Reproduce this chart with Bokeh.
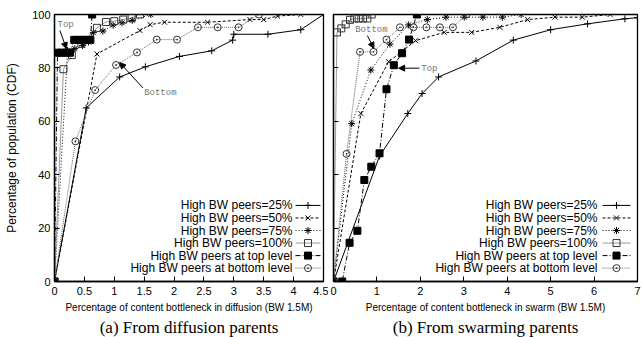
from bokeh.plotting import figure
from bokeh.layouts import row
from bokeh.models import Range1d, FixedTicker, Title, Label, Arrow, NormalHead
from bokeh.embed import file_html
from bokeh.resources import INLINE

# ---------------- data ----------------
SERIES_NAMES = ["High BW peers=25%", "High BW peers=50%", "High BW peers=75%",
                "High BW peers=100%", "High BW peers at top level",
                "High BW peers at bottom level"]

# (a) From diffusion parents
A25_X = [0, 0.53, 1.09, 1.52, 2.09, 2.63, 2.98, 3.0, 3.57, 4.12, 4.5]
A25_Y = [0, 65, 76.6, 80.4, 84.3, 86.4, 90.4, 92.6, 92.6, 94.3, 100]
A50_X = [0, 0.71, 1.43, 1.6, 1.84, 2.56, 3.27, 3.5, 3.73, 4.12]
A50_Y = [0, 85.2, 94, 96.2, 97.1, 97.1, 98.1, 98.1, 99.4, 100]
A75_X = [0, 0.22, 0.34, 0.47, 0.57, 0.65, 0.81, 0.98, 1.13, 1.3, 1.61]
A75_Y = [0, 86.5, 87.2, 88.4, 89.7, 93.2, 93.8, 96, 96.9, 97.8, 100]
A100_X = [0, 0.15, 0.29, 0.45, 0.71, 0.86, 1.0, 1.15, 1.29, 1.43]
A100_Y = [0, 79.5, 84.8, 89, 95, 97.2, 97.5, 98.1, 98.7, 100]
ATOP_X = [0, 0.05, 0.12, 0.19, 0.26, 0.33, 0.4, 0.47, 0.54, 0.6, 0.63]
ATOP_Y = [0, 85.7, 85.7, 85.7, 85.7, 90.5, 90.5, 90.5, 90.5, 90.5, 100]
ABOT_X = [0, 0.35, 0.68, 1.03, 1.38, 1.71, 2.05, 2.4, 2.73, 3.08, 3.42]
ABOT_Y = [0, 52.5, 71.7, 81.1, 85.8, 90.6, 90.6, 95.2, 95.2, 95.2, 100]

# (b) From swarming parents
B25_X = [0, 1.06, 1.71, 2.04, 2.42, 3.28, 4.14, 5.0, 5.85, 6.71, 7.0]
B25_Y = [0, 47, 62.9, 70.4, 76.6, 82.6, 90.4, 94.3, 96.5, 98.4, 98.8]
B50_X = [0, 0.63, 1.27, 1.89, 2.55, 3.18, 3.83, 4.47, 5.1, 5.73, 6.37]
B50_Y = [0, 62.9, 82.3, 90.2, 93.3, 93.3, 95.2, 98.1, 99, 99, 100]
B75_X = [0, 0.42, 0.86, 1.3, 1.73, 2.16, 2.59, 3.01, 3.44, 3.89, 4.32]
B75_Y = [0, 59.1, 79.2, 88.9, 96.1, 98.1, 99, 99, 99, 99, 100]
B100_X = [0, 0.08, 0.18, 0.28, 0.38, 0.48, 0.58, 0.68, 0.78, 0.88]
B100_Y = [0, 93.3, 94.8, 96.3, 98, 98.5, 98.5, 98.5, 98.5, 100]
BTOP_X = [0, 0.2, 0.37, 0.55, 0.71, 0.87, 1.06, 1.22, 1.39, 1.58, 1.74, 1.92]
BTOP_Y = [0, 0, 14.5, 19, 38, 43, 48, 72, 81, 85.5, 90.6, 100]
BBOT_X = [0, 0.3, 0.61, 0.92, 1.22, 1.53, 1.84, 2.14, 2.45, 2.75, 3.06]
BBOT_Y = [0, 47.8, 86, 86, 90.6, 95.2, 95.2, 95.2, 95.2, 95.2, 100]

Y_TICKS = [0, 20, 40, 60, 80, 100]
Y_TICK_LABELS = ["0", "20", "40", "60", "80", "100"]
XA_TICKS = [0, 0.5, 1, 1.5, 2, 2.5, 3, 3.5, 4, 4.5]
XA_TICK_LABELS = ["0", "0.5", "1", "1.5", "2", "2.5", "3", "3.5", "4", "4.5"]
XB_TICKS = [0, 1, 2, 3, 4, 5, 6, 7]
XB_TICK_LABELS = ["0", "1", "2", "3", "4", "5", "6", "7"]

Y_TITLE = "Percentage of population (CDF)"
XA_TITLE = "Percentage of content bottleneck in diffusion (BW 1.5M)"
XB_TITLE = "Percentage of content bottleneck in swarm (BW 1.5M)"
SUB_A = "(a) From diffusion parents"
SUB_B = "(b) From swarming parents"

# ---------------- styles ----------------
STYLES = [
    dict(color="black", dash="solid", marker="cross", fill=None, mcolor="black"),
    dict(color="black", dash="3 2", marker="x", fill=None, mcolor="black"),
    dict(color="black", dash="1 2", marker="asterisk", fill=None, mcolor="black"),
    dict(color="#9a9a9a", dash="solid", marker="square", fill=None, mcolor="#333333"),
    dict(color="black", dash="5 2 1 2", marker="square", fill="black", mcolor="black"),
    dict(color="#666666", dash="1 1", marker="circle_dot", fill=None, mcolor="#333333"),
]

SANS = "Liberation Sans"
HEIGHT = 337


def make_panel(width, mb_left, mb_right, xmax, xticks, xlabels, xtitle, subtitle,
               sub_offset, series, show_y):
    p = figure(width=width, height=HEIGHT, x_range=Range1d(0, xmax),
               y_range=Range1d(0, 100), output_backend="svg",
               toolbar_location=None, min_border_left=mb_left,
               min_border_right=mb_right, min_border_top=14, min_border_bottom=56)
    p.grid.visible = False
    p.outline_line_color = "black"
    p.outline_line_width = 1.3
    p.outline_line_alpha = 1.0
    p.background_fill_color = "white"
    p.border_fill_color = "white"

    for ax in (p.xaxis[0], p.yaxis[0]):
        ax.major_tick_in = 5
        ax.major_tick_out = 0
        ax.minor_tick_line_color = None
        ax.axis_line_width = 1.3
        ax.major_tick_line_width = 1
        ax.major_label_text_font = SANS
        ax.major_label_text_font_size = "11px"
        ax.major_label_text_color = "black"
        ax.axis_label_text_font = SANS
        ax.axis_label_text_font_style = "normal"
        ax.axis_label_text_color = "black"

    p.xaxis.ticker = FixedTicker(ticks=xticks)
    p.xaxis.major_label_overrides = dict(zip(xticks, xlabels))
    p.xaxis.major_label_standoff = 5
    p.xaxis.axis_label = xtitle
    p.xaxis.axis_label_text_font_size = "10px"
    p.xaxis.axis_label_standoff = 4

    p.yaxis.ticker = FixedTicker(ticks=Y_TICKS)
    if show_y:
        p.yaxis.major_label_overrides = dict(zip(Y_TICKS, Y_TICK_LABELS))
        p.yaxis.axis_label = Y_TITLE
        p.yaxis.axis_label_text_font_size = "12px"
        p.yaxis.axis_label_standoff = 10
        p.yaxis.major_label_standoff = 4
    else:
        p.yaxis.major_label_overrides = {t: "" for t in Y_TICKS}
        p.yaxis.major_label_standoff = 0

    for (xs, ys), st in zip(series, STYLES):
        p.line(xs, ys, line_color=st["color"], line_width=1, line_dash=st["dash"])
    for (xs, ys), st in zip(series, STYLES):
        p.scatter(xs, ys, marker=st["marker"], size=7, line_color=st["mcolor"],
                  fill_color=st["fill"], line_width=1)

    p.add_layout(Title(text=subtitle, align="center", text_font="Liberation Serif",
                       text_font_size="17px", text_font_style="normal",
                       text_color="black", standoff=0, offset=sub_offset), "below")
    return p


# frame geometry (px)
LEFT_W, LEFT_ML, LEFT_MR = 328, 54, 5
RIGHT_W, RIGHT_ML, RIGHT_MR = 314, 5, 5

pa = make_panel(LEFT_W, LEFT_ML, LEFT_MR, 4.5, XA_TICKS, XA_TICK_LABELS, XA_TITLE,
                SUB_A, -13, [(A25_X, A25_Y), (A50_X, A50_Y), (A75_X, A75_Y),
                             (A100_X, A100_Y), (ATOP_X, ATOP_Y), (ABOT_X, ABOT_Y)], True)
pb = make_panel(RIGHT_W, RIGHT_ML, RIGHT_MR, 7, XB_TICKS, XB_TICK_LABELS, XB_TITLE,
                SUB_B, 25, [(B25_X, B25_Y), (B50_X, B50_Y), (B75_X, B75_Y),
                            (B100_X, B100_Y), (BTOP_X, BTOP_Y), (BBOT_X, BBOT_Y)], False)


def add_legend(p, xmax, frame_px, text_gap, s_start, s_end, y_first, dy):
    ppu = frame_px / xmax  # pixels per x unit
    tx = xmax - text_gap / ppu
    s0 = xmax - s_start / ppu
    s1 = xmax - s_end / ppu
    sm = (s0 + s1) / 2
    for i, (name, st) in enumerate(zip(SERIES_NAMES, STYLES)):
        yy = y_first - i * dy
        p.add_layout(Label(x=tx, y=yy, text=name, text_align="right",
                           text_baseline="middle", text_font=SANS,
                           text_font_size="12px", text_color="black"))
        p.line([s0, s1], [yy, yy], line_color=st["color"], line_width=1,
               line_dash=st["dash"])
        p.scatter([sm], [yy], marker=st["marker"], size=7, line_color=st["mcolor"],
                  fill_color=st["fill"], line_width=1)


add_legend(pa, 4.5, LEFT_W - LEFT_ML - LEFT_MR, 31, 28, 3, 28.5, 4.7)
add_legend(pb, 7, RIGHT_W - RIGHT_ML - RIGHT_MR, 40, 35, 7, 28.5, 4.7)

ANN = dict(text_font="Liberation Mono", text_font_size="9px", text_color="#777777",
           text_baseline="middle")


def arrow(p, x0, y0, x1, y1):
    p.add_layout(Arrow(end=NormalHead(size=6, fill_color="black", line_color="black"),
                       x_start=x0, y_start=y0, x_end=x1, y_end=y1,
                       line_color="black", line_width=1))


pa.add_layout(Label(x=0.05, y=96.0, text="Top", **ANN))
arrow(pa, 0.09, 94.0, 0.2, 87.2)
pa.add_layout(Label(x=1.5, y=70.5, text="Bottom", **ANN))
arrow(pa, 1.48, 72.5, 1.09, 82.0)

pb.add_layout(Label(x=0.5, y=94.1, text="Bottom", **ANN))
arrow(pb, 0.78, 92.1, 0.93, 87.3)
pb.add_layout(Label(x=2.02, y=79.6, text="Top", **ANN))
arrow(pb, 1.98, 79.9, 1.5, 79.9)

layout = row(pa, pb)
open("out.html", "w").write(file_html(layout, INLINE))
